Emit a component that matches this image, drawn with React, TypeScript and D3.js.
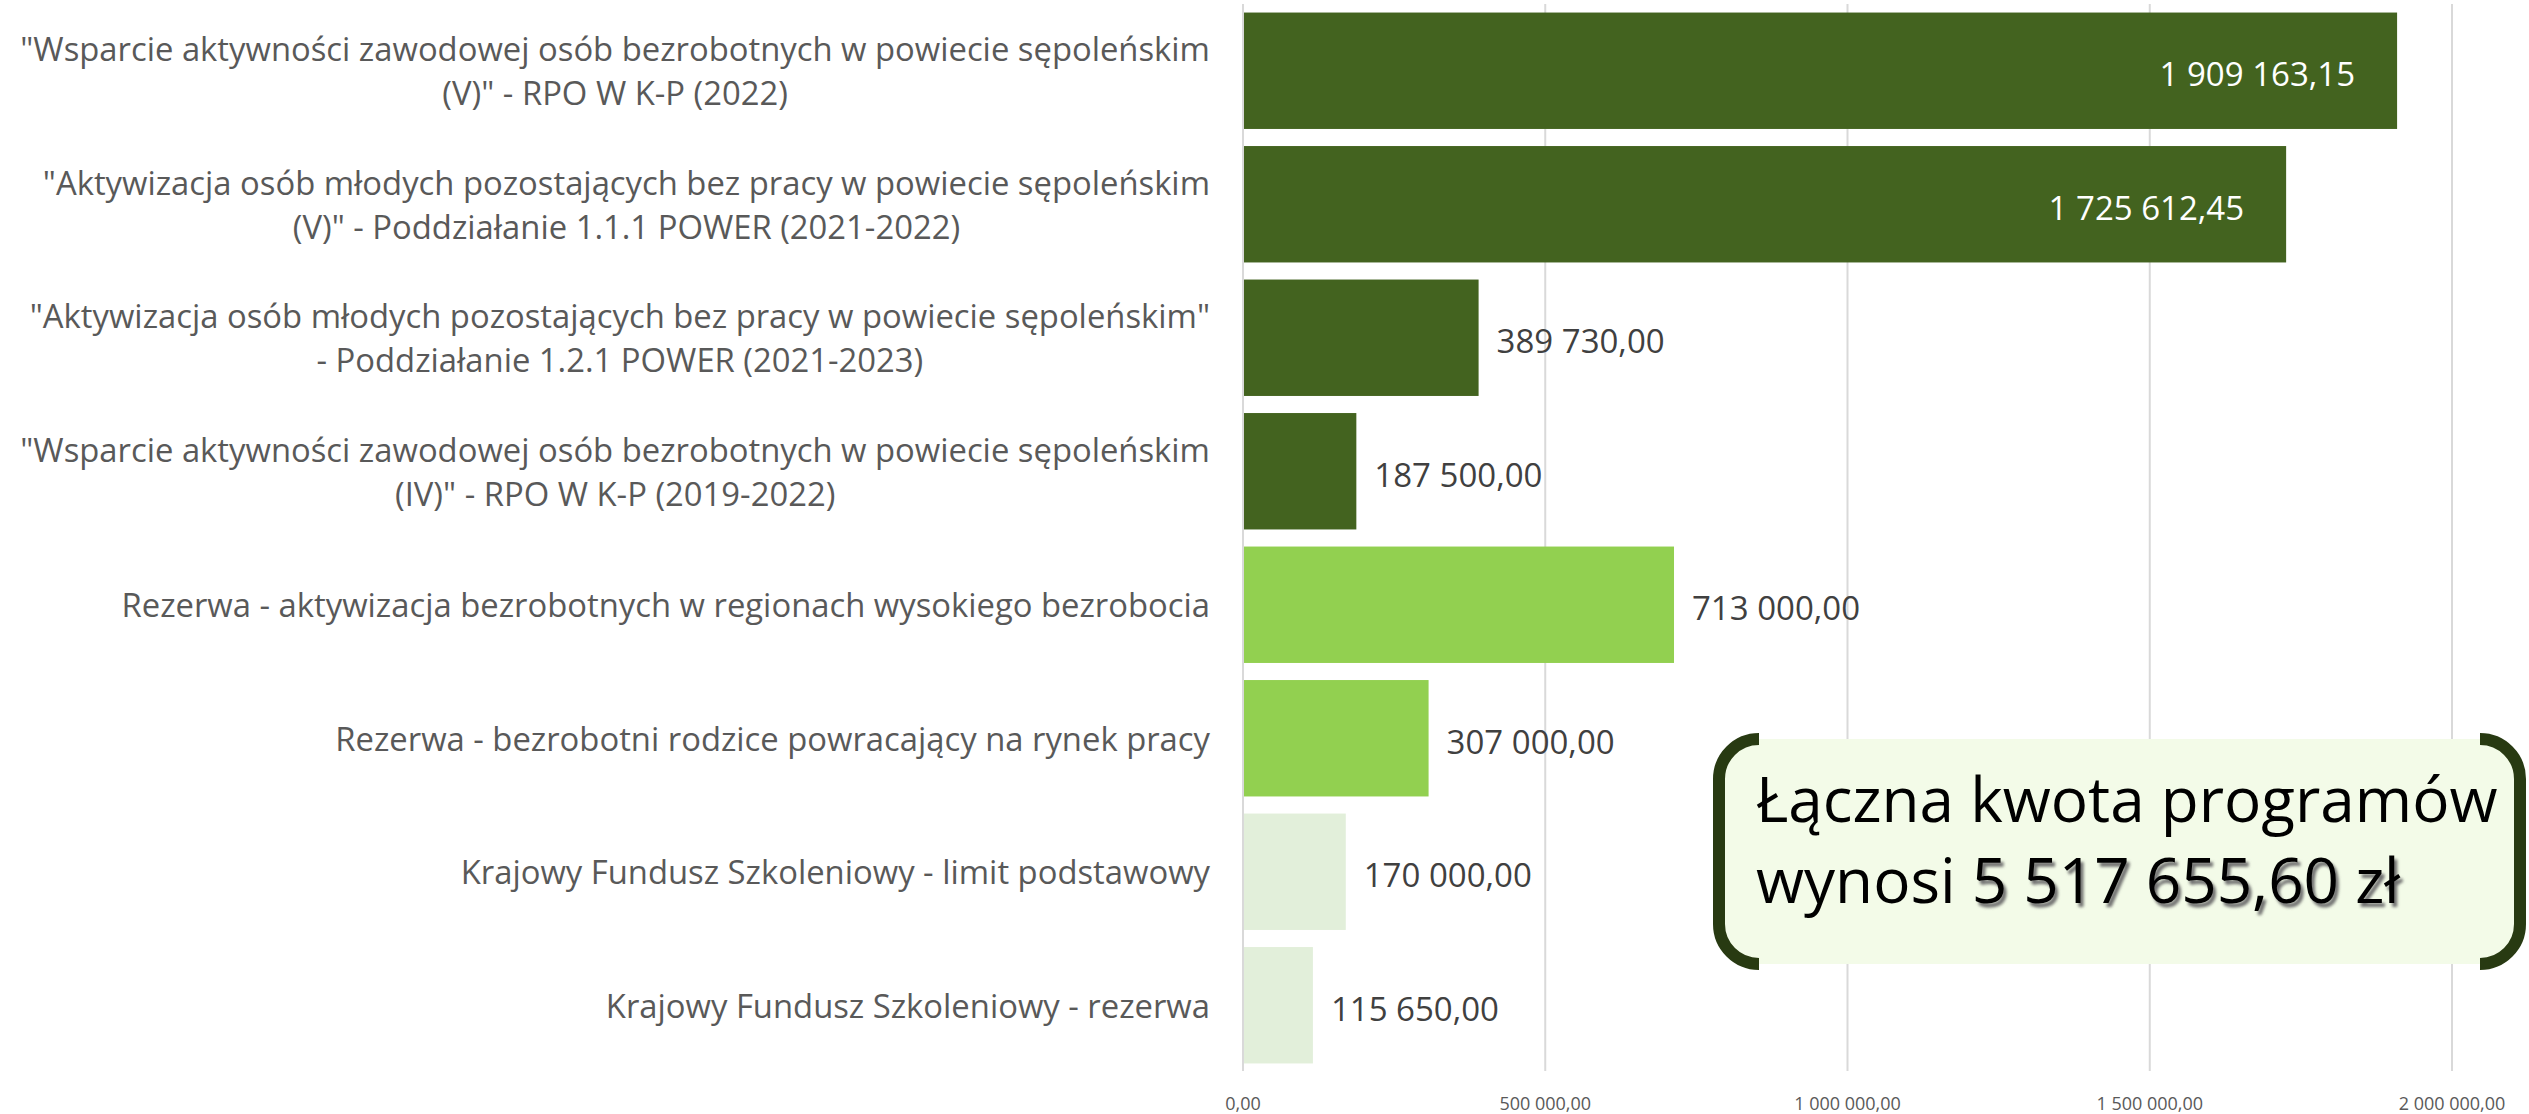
import React, { useEffect, useRef } from "react";
import * as d3 from "d3";

const categories: string[] = [
  "\"Wsparcie aktywności zawodowej osób bezrobotnych w powiecie sępoleńskim\n(V)\" - RPO W K-P (2022)",
  "\"Aktywizacja osób młodych pozostających bez pracy w powiecie sępoleńskim\n(V)\" - Poddziałanie 1.1.1 POWER (2021-2022)",
  "\"Aktywizacja osób młodych pozostających bez pracy w powiecie sępoleńskim\"\n- Poddziałanie 1.2.1 POWER (2021-2023)",
  "\"Wsparcie aktywności zawodowej osób bezrobotnych w powiecie sępoleńskim\n(IV)\" - RPO W K-P (2019-2022)",
  "Rezerwa - aktywizacja bezrobotnych w regionach wysokiego bezrobocia",
  "Rezerwa - bezrobotni rodzice powracający na rynek pracy",
  "Krajowy Fundusz Szkoleniowy - limit podstawowy",
  "Krajowy Fundusz Szkoleniowy - rezerwa",
];
const values: number[] = [1909163.15, 1725612.45, 389730.0, 187500.0, 713000.0, 307000.0, 170000.0, 115650.0];
const groups: string[] = ["dark", "dark", "dark", "dark", "mid", "mid", "light", "light"];
const tickValues: number[] = [0, 500000, 1000000, 1500000, 2000000];
const boxLine1 = "Łączna kwota programów";
const boxLine2a = "wynosi ";
const boxLine2b = "5 517 655,60 zł";

const FONT = "'Open Sans', 'Noto Sans', sans-serif";
const colors: Record<string, string> = { dark: "#43631f", mid: "#92d050", light: "#e2efda" };

export default function App() {
  const ref = useRef<SVGSVGElement | null>(null);
  useEffect(() => {
    document.body.style.margin = "0";
    const svg = d3.select(ref.current);
    svg.selectAll("*").remove();
    const W = 2529, H = 1114;
    const x = d3.scaleLinear().domain([0, 2000000]).range([1243, 2452]);
    const y = d3.scaleBand<number>().domain(d3.range(categories.length)).range([4, 1072]).paddingInner(0.128).paddingOuter(0.064);
    const loc = d3.formatLocale({ decimal: ",", thousands: "\u00a0", grouping: [3], currency: ["", ""] });
    const fmt = loc.format(",.2f");

    svg.attr("width", W).attr("height", H);
    svg.append("rect").attr("width", W).attr("height", H).attr("fill", "#ffffff");

    const defs = svg.append("defs");
    const f = defs.append("filter").attr("id", "sh").attr("x", "-10%").attr("y", "-30%").attr("width", "130%").attr("height", "160%");
    f.append("feGaussianBlur").attr("stdDeviation", 1.8);

    // gridlines
    svg.append("g").selectAll("line").data(tickValues).join("line")
      .attr("x1", (d) => x(d)).attr("x2", (d) => x(d))
      .attr("y1", 4).attr("y2", 1071)
      .attr("stroke", "#d9d9d9").attr("stroke-width", 2);

    // tick labels
    svg.append("g").selectAll("text").data(tickValues).join("text")
      .attr("x", (d) => x(d)).attr("y", 1103)
      .attr("text-anchor", "middle").attr("dominant-baseline", "central")
      .attr("font-family", FONT).attr("font-size", 18).attr("fill", "#595959")
      .text((d) => fmt(d));

    // bars
    svg.append("g").selectAll("rect").data(values).join("rect")
      .attr("x", x(0)).attr("y", (_, i) => y(i)!)
      .attr("width", (d) => x(d) - x(0)).attr("height", y.bandwidth())
      .attr("fill", (_, i) => colors[groups[i]]);

    // axis line
    svg.append("line").attr("x1", x(0)).attr("x2", x(0)).attr("y1", 4).attr("y2", 1071)
      .attr("stroke", "#d9d9d9").attr("stroke-width", 2);

    // value labels
    svg.append("g").selectAll("text").data(values).join("text")
      .attr("x", (d) => (d > 1000000 ? x(d) - 42 : x(d) + 18))
      .attr("y", (_, i) => y(i)! + y.bandwidth() / 2 + 3)
      .attr("text-anchor", (d) => (d > 1000000 ? "end" : "start"))
      .attr("dominant-baseline", "central")
      .attr("font-family", FONT).attr("font-size", 33)
      .attr("fill", (d) => (d > 1000000 ? "#ffffff" : "#404040"))
      .text((d) => fmt(d));

    // category labels
    const labelRight = 1210;
    const lineH = 44;
    categories.forEach((c, i) => {
      const lines = c.split("\n");
      const cy = y(i)! + y.bandwidth() / 2;
      const g = svg.append("g");
      const texts = lines.map((ln, k) =>
        g.append("text")
          .attr("y", cy + (k - (lines.length - 1) / 2) * lineH)
          .attr("dominant-baseline", "central")
          .attr("font-family", FONT).attr("font-size", 32.8).attr("fill", "#595959")
          .text(ln)
      );
      const widths = texts.map((t) => (t.node() as SVGTextElement).getComputedTextLength());
      const maxW = Math.max(...widths);
      texts.forEach((t) => t.attr("x", labelRight - maxW / 2).attr("text-anchor", "middle"));
    });

    // total box
    const bx0 = 1719, bx1 = 2520, by0 = 739, by1 = 964, r = 40;
    svg.append("rect").attr("x", bx0).attr("y", by0).attr("width", bx1 - bx0).attr("height", by1 - by0)
      .attr("rx", r).attr("fill", "#f3fbe8");
    const bracket = `M${bx0 + r},${by0} A${r},${r} 0 0 0 ${bx0},${by0 + r} L${bx0},${by1 - r} A${r},${r} 0 0 0 ${bx0 + r},${by1}`;
    const bracketR = `M${bx1 - r},${by0} A${r},${r} 0 0 1 ${bx1},${by0 + r} L${bx1},${by1 - r} A${r},${r} 0 0 1 ${bx1 - r},${by1}`;
    [bracket, bracketR].forEach((p) =>
      svg.append("path").attr("d", p).attr("fill", "none").attr("stroke", "#283a12").attr("stroke-width", 12)
    );
    const tx = 1756;
    const fs = 62;
    svg.append("text").attr("x", tx).attr("y", 822)
      .attr("font-family", FONT).attr("font-size", fs).attr("fill", "#000")
      .text(boxLine1);
    const sh = svg.append("text").attr("x", tx + 3).attr("y", 903 + 4)
      .attr("font-family", FONT).attr("font-size", fs).attr("filter", "url(#sh)");
    sh.append("tspan").attr("fill", "none").text(boxLine2a);
    sh.append("tspan").attr("fill", "#6f6f6f").text(boxLine2b);
    const t2 = svg.append("text").attr("x", tx).attr("y", 903)
      .attr("font-family", FONT).attr("font-size", fs).attr("fill", "#000");
    t2.append("tspan").text(boxLine2a);
    t2.append("tspan").text(boxLine2b);
  }, []);
  return <svg ref={ref} style={{ position: "absolute", left: 0, top: 0, display: "block" }} />;
}
